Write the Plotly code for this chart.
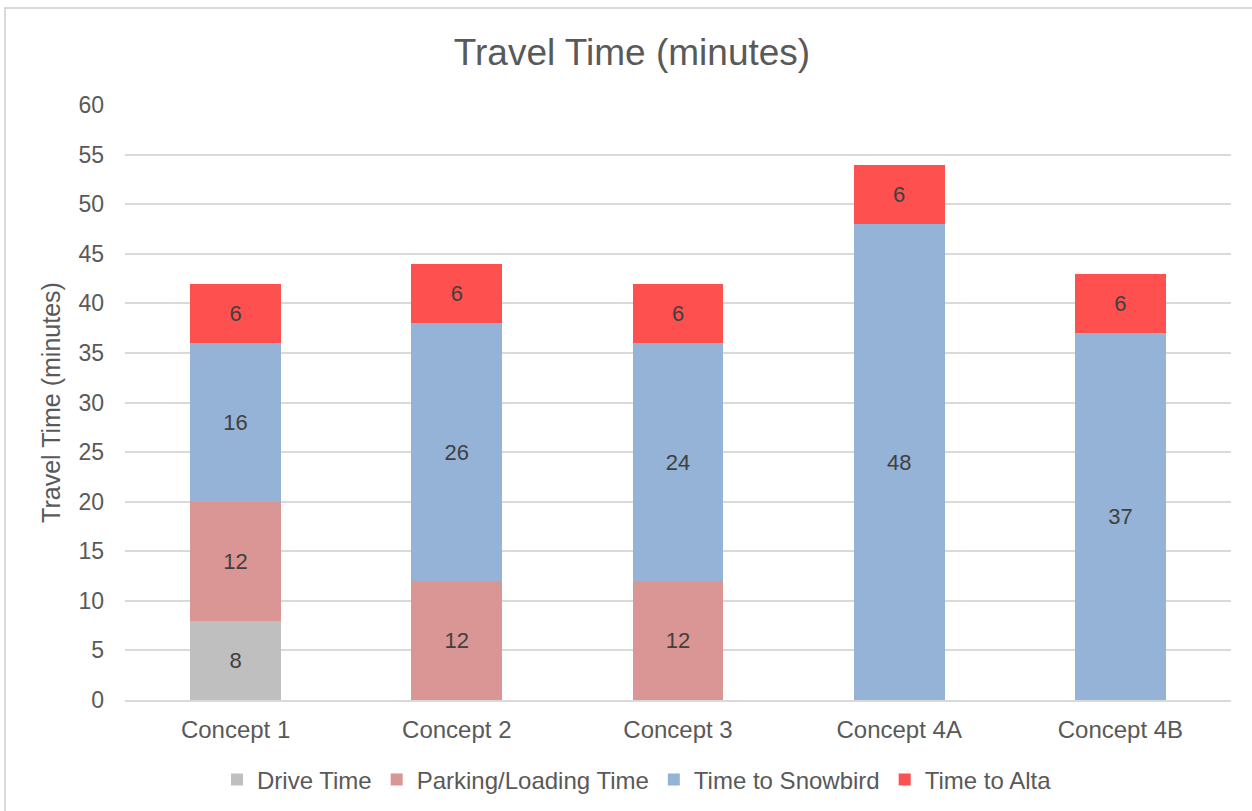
import plotly.graph_objects as go

concepts = ["Concept 1", "Concept 2", "Concept 3", "Concept 4A", "Concept 4B"]
drive_time = [8, None, None, None, None]
parking_time = [12, 12, 12, None, None]
snowbird_time = [16, 26, 24, 48, 37]
alta_time = [6, 6, 6, 6, 6]

series = [
    ("Drive Time", drive_time, "#BFBFBF"),
    ("Parking/Loading Time", parking_time, "#DA9694"),
    ("Time to Snowbird", snowbird_time, "#95B3D7"),
    ("Time to Alta", alta_time, "#FF5050"),
]

FONT = "Liberation Sans, Arial, sans-serif"
TXT = "#595959"

fig = go.Figure()
for name, vals, col in series:
    fig.add_trace(go.Bar(
        name=name, x=concepts, y=vals,
        marker=dict(color=col, line=dict(width=0)),
        text=[("" if v is None else str(v)) for v in vals],
        textposition="inside", insidetextanchor="middle",
        textangle=0, constraintext="none",
        textfont=dict(family=FONT, size=22, color="#404040"),
        hoverinfo="skip",
    ))

L, R, T, B = 125, 21, 105, 111
W, H = 1252, 811
pw, ph = W - L - R, H - T - B

def px_to_paper_x(px):
    return (px - L) / pw

def px_to_paper_y(py):
    return (H - B - py) / ph

fig.update_layout(
    barmode="stack",
    bargap=0.59,
    width=W, height=H,
    margin=dict(l=L, r=R, t=T, b=B, autoexpand=False),
    paper_bgcolor="white", plot_bgcolor="white",
    font=dict(family=FONT, color=TXT),
    title=dict(text="Travel Time (minutes)", x=632 / W, xanchor="center",
               y=1 - 52 / H, yanchor="middle", yref="container",
               font=dict(family=FONT, size=37, color=TXT)),
    showlegend=True,
    legend=dict(orientation="h", x=px_to_paper_x(637), xanchor="center",
                y=px_to_paper_y(780), yanchor="middle",
                font=dict(family=FONT, size=24, color=TXT),
                itemwidth=30, traceorder="normal", bgcolor="rgba(0,0,0,0)"),
    xaxis=dict(showgrid=False, showline=True, linecolor="#D9D9D9", linewidth=2,
               ticks="", tickfont=dict(family=FONT, size=24, color=TXT),
               ticklabelstandoff=7, fixedrange=True),
    yaxis=dict(range=[0, 60], dtick=5, tick0=0, showgrid=True, gridcolor="#D9D9D9",
               gridwidth=1.5, zeroline=False, showline=False, ticks="",
               tickfont=dict(family=FONT, size=23, color=TXT),
               ticklabelstandoff=20,
               title=dict(text="Travel Time (minutes)", standoff=10,
                          font=dict(family=FONT, size=25, color=TXT)),
               fixedrange=True),
    shapes=[dict(type="rect", xref="paper", yref="paper",
                 x0=px_to_paper_x(5), x1=px_to_paper_x(1270),
                 y0=px_to_paper_y(830), y1=px_to_paper_y(8),
                 line=dict(color="#D9D9D9", width=2), fillcolor="rgba(0,0,0,0)",
                 layer="below")],
)

fig.write_html("out.html", include_plotlyjs=True,
               config={"displayModeBar": False},
               post_script="document.body.style.margin='0';document.body.style.overflow='hidden';")
